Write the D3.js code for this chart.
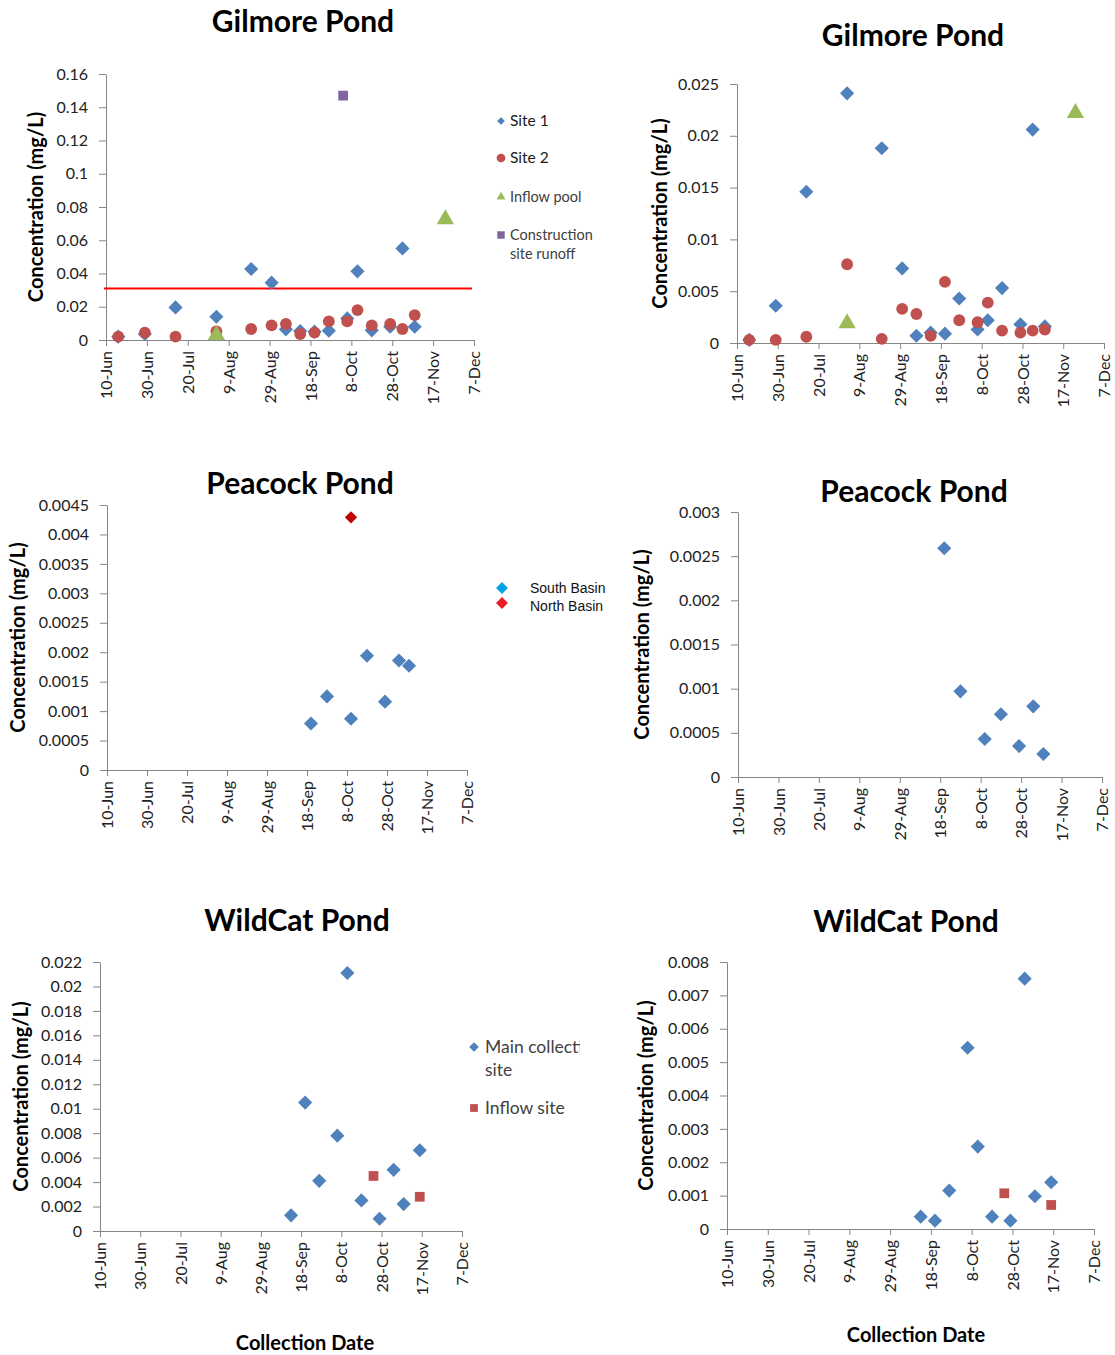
<!DOCTYPE html>
<html>
<head>
<meta charset="utf-8">
<script src="https://cdn.jsdelivr.net/npm/d3@7"></script>
<style>
body { margin: 0; background: #fff; }
svg { font-family: Lato, "Open Sans", sans-serif; }
</style>
</head>
<body>
<div id="chart"></div>
<script>
// shared x axis labels (collection dates)
const xTickLabels = ["10-Jun", "30-Jun", "20-Jul", "9-Aug", "29-Aug", "18-Sep", "8-Oct", "28-Oct", "17-Nov", "7-Dec"];

// Gilmore Pond
const gilmoreDates = ["16-Jun", "29-Jun", "14-Jul", "3-Aug", "20-Aug", "30-Aug", "6-Sep", "13-Sep", "20-Sep", "27-Sep", "6-Oct", "11-Oct", "18-Oct", "27-Oct", "2-Nov", "8-Nov"];
const gilmoreInflowDates = ["3-Aug", "23-Nov"];
const gilmoreRunoffDates = ["4-Oct"];
// left chart
const gilmoreSite1 = [0.002, 0.0036, 0.0196, 0.014, 0.0427, 0.0345, 0.0064, 0.0054, 0.005, 0.0056, 0.013, 0.0413, 0.0058, 0.008, 0.0551, 0.008];
const gilmoreSite2 = [0.002, 0.0044, 0.002, 0.0052, 0.0066, 0.0088, 0.0096, 0.0036, 0.0044, 0.0112, 0.0112, 0.018, 0.0088, 0.0096, 0.0066, 0.015];
const gilmoreInflow = [0.003, 0.0726];
const gilmoreRunoff = [0.147];
const gilmoreLimit = 0.031;
const gilmoreTicks = [0, 0.02, 0.04, 0.06, 0.08, 0.1, 0.12, 0.14, 0.16];
// right chart
const gilmoreSite1B = [0.0003, 0.0036, 0.0146, 0.0241, 0.0188, 0.0072, 0.0007, 0.001, 0.0009, 0.0043, 0.0013, 0.0022, 0.0053, 0.0018, 0.0206, 0.0016];
const gilmoreSite2B = [0.0003, 0.0003, 0.0006, 0.0076, 0.0004, 0.0033, 0.0028, 0.0007, 0.0059, 0.0022, 0.002, 0.0039, 0.0012, 0.001, 0.0012, 0.0013];
const gilmoreInflowB = [0.0019, 0.0222];
const gilmoreTicksB = [0, 0.005, 0.01, 0.015, 0.02, 0.025];

// Peacock Pond
const peacockDates = ["20-Sep", "28-Sep", "10-Oct", "18-Oct", "27-Oct", "3-Nov", "8-Nov"];
const peacockSouth = [0.00079, 0.00125, 0.00087, 0.00194, 0.00116, 0.00186, 0.00177];
const peacockNorthDates = ["10-Oct"];
const peacockNorth = [0.00429];
const peacockTicks = [0, 0.0005, 0.001, 0.0015, 0.002, 0.0025, 0.003, 0.0035, 0.004, 0.0045];
const peacockSouthB = [0.00259, 0.00097, 0.00043, 0.00071, 0.00035, 0.0008, 0.00026];
const peacockTicksB = [0, 0.0005, 0.001, 0.0015, 0.002, 0.0025, 0.003];

// WildCat Pond
const wildcatDates = ["13-Sep", "20-Sep", "27-Sep", "6-Oct", "11-Oct", "18-Oct", "27-Oct", "3-Nov", "8-Nov", "16-Nov"];
const wildcatInflowDates = ["24-Oct", "16-Nov"];
const wildcatMain = [0.00128, 0.0105, 0.0041, 0.0078, 0.0211, 0.0025, 0.001, 0.005, 0.0022, 0.0066];
const wildcatInflow = [0.0045, 0.0028];
const wildcatTicks = [0, 0.002, 0.004, 0.006, 0.008, 0.01, 0.012, 0.014, 0.016, 0.018, 0.02, 0.022];
const wildcatMainB = [0.00037, 0.00025, 0.00115, 0.00543, 0.00247, 0.00037, 0.00025, 0.0075, 0.00098, 0.0014];
const wildcatInflowB = [0.00107, 0.00072];
const wildcatTicksB = [0, 0.001, 0.002, 0.003, 0.004, 0.005, 0.006, 0.007, 0.008];

const blue = "#4f81bd", red = "#c0504d", green = "#9bbb59", purple = "#8064a2";
const parse = d3.utcParse("%d-%b");
const fmt = d3.utcFormat("%-d-%b");
const axisColor = "#868686";

const width = 1115, height = 1355;
const svg = d3.select("#chart").append("svg")
    .attr("width", width)
    .attr("height", height);

const zip = (dates, values) => dates.map((d, i) => ({ date: parse(d), value: values[i] }));

const panels = [
    { title: "Gilmore Pond", left: 106, top: 74, w: 368, h: 266, titleX: 303, titleY: 32, labelX: 36, ticks: gilmoreTicks, limit: gilmoreLimit,
      series: [
        { data: zip(gilmoreDates, gilmoreSite1), shape: "diamond", color: blue },
        { data: zip(gilmoreDates, gilmoreSite2), shape: "circle", color: red },
        { data: zip(gilmoreInflowDates, gilmoreInflow), shape: "triangle", color: green },
        { data: zip(gilmoreRunoffDates, gilmoreRunoff), shape: "square", color: purple }
      ],
      legend: [
        { x: 501, y: 121, shape: "diamond", color: blue, size: 30, lines: ["Site 1"], fs: 15.5, fill: "#1a1a1a" },
        { x: 501, y: 158, shape: "circle", color: red, size: 60, lines: ["Site 2"], fs: 15.5, fill: "#1a1a1a" },
        { x: 501, y: 197, shape: "triangle", color: green, size: 35, lines: ["Inflow pool"], fs: 14.5, fill: "#404040" },
        { x: 501, y: 235, shape: "square", color: purple, size: 55, lines: ["Construction", "site runoff"], fs: 14.5, fill: "#404040" }
      ] },
    { title: "Gilmore Pond", left: 737, top: 84, w: 367, h: 259, titleX: 913, titleY: 46, labelX: 660, ticks: gilmoreTicksB,
      series: [
        { data: zip(gilmoreDates, gilmoreSite1B), shape: "diamond", color: blue },
        { data: zip(gilmoreDates, gilmoreSite2B), shape: "circle", color: red },
        { data: zip(gilmoreInflowDates, gilmoreInflowB), shape: "triangle", color: green }
      ] },
    { title: "Peacock Pond", left: 107, top: 505, w: 360, h: 265, titleX: 300, titleY: 494, labelX: 18, ticks: peacockTicks,
      series: [
        { data: zip(peacockDates, peacockSouth), shape: "diamond", color: blue },
        { data: zip(peacockNorthDates, peacockNorth), shape: "diamond", color: "#c00000", size: 75 }
      ],
      legend: [
        { x: 502, y: 588, shape: "diamond", color: "#00a2e8", size: 70, lines: ["South Basin"], fs: 14, fill: "#111", tx: 530, font: "'Liberation Sans', Arial, sans-serif" },
        { x: 502, y: 603, shape: "diamond", color: "#ec1c24", size: 70, lines: ["North Basin"], fs: 14, fill: "#111", tx: 530, font: "'Liberation Sans', Arial, sans-serif", ty: 606 }
      ] },
    { title: "Peacock Pond", left: 738, top: 512, w: 364, h: 265, titleX: 914, titleY: 502, labelX: 642, ticks: peacockTicksB,
      series: [
        { data: zip(peacockDates, peacockSouthB), shape: "diamond", color: blue }
      ] },
    { title: "WildCat Pond", left: 100, top: 962, w: 362, h: 269, titleX: 297, titleY: 931, labelX: 21, ticks: wildcatTicks, xTitle: "Collection Date", xTitleX: 305, xTitleY: 1350,
      series: [
        { data: zip(wildcatDates, wildcatMain), shape: "diamond", color: blue },
        { data: zip(wildcatInflowDates, wildcatInflow), shape: "square", color: red }
      ],
      legend: [
        { x: 474, y: 1047, shape: "diamond", color: blue, size: 45, lines: ["Main collection", "site"], fs: 17.5, fill: "#404040", clip: 580, lh: 23, tx: 485 },
        { x: 474, y: 1108, shape: "square", color: red, size: 60, lines: ["Inflow site"], fs: 17.5, fill: "#404040", tx: 485 }
      ] },
    { title: "WildCat Pond", left: 727, top: 962, w: 367, h: 267, titleX: 906, titleY: 932, labelX: 646, ticks: wildcatTicksB, xTitle: "Collection Date", xTitleX: 916, xTitleY: 1342,
      series: [
        { data: zip(wildcatDates, wildcatMainB), shape: "diamond", color: blue },
        { data: zip(wildcatInflowDates, wildcatInflowB), shape: "square", color: red }
      ] }
];

const symbolPath = (shape, size) => {
    if (shape === "circle") return d3.symbol(d3.symbolCircle, size)();
    if (shape === "triangle") return d3.symbol(d3.symbolTriangle, size)();
    // diamond = square turned 45 degrees
    return d3.symbol(d3.symbolSquare, size)();
};
const defaultSize = { diamond: 100, circle: 110, triangle: 130, square: 95 };

panels.forEach((p, pi) => {
    const g = svg.append("g").attr("transform", "translate(" + p.left + "," + p.top + ")");

    const x = d3.scaleUtc()
        .domain([parse(xTickLabels[0]), parse(xTickLabels[xTickLabels.length - 1])])
        .range([0, p.w]);
    const y = d3.scaleLinear()
        .domain([0, p.ticks[p.ticks.length - 1]])
        .range([p.h, 0]);

    const yAxis = g.append("g")
        .call(d3.axisLeft(y).tickValues(p.ticks).tickFormat(d3.format("~g")).tickSize(7).tickSizeOuter(0).tickPadding(11));
    const xAxis = g.append("g")
        .attr("transform", "translate(0," + p.h + ")")
        .call(d3.axisBottom(x).tickValues(xTickLabels.map(parse)).tickFormat(fmt).tickSize(6).tickSizeOuter(0));

    [yAxis, xAxis].forEach(a => {
        a.attr("font-family", null);
        a.select(".domain").attr("stroke", axisColor);
        a.selectAll(".tick line").attr("stroke", axisColor);
        a.selectAll("text").attr("font-size", 16).attr("fill", "#222");
    });
    xAxis.selectAll("text")
        .attr("transform", "rotate(-90)")
        .attr("text-anchor", "end")
        .attr("x", -11)
        .attr("y", 0)
        .attr("dy", "0.35em");

    if (p.limit !== undefined) {
        g.append("line")
            .attr("x1", -2).attr("x2", p.w - 2)
            .attr("y1", y(p.limit)).attr("y2", y(p.limit))
            .attr("stroke", "#ff0000")
            .attr("stroke-width", 2);
    }

    p.series.forEach(s => {
        g.selectAll(null)
            .data(s.data)
            .enter()
            .append("path")
                .attr("d", symbolPath(s.shape, s.size || defaultSize[s.shape]))
                .attr("transform", d => "translate(" + x(d.date) + "," + y(d.value) + ")" + (s.shape === "diamond" ? " rotate(45)" : ""))
                .attr("fill", s.color);
    });

    svg.append("text")
        .attr("x", p.titleX)
        .attr("y", p.titleY)
        .attr("text-anchor", "middle")
        .attr("font-size", 30)
        .attr("font-weight", "bold")
        .attr("fill", "#000")
        .text(p.title);

    svg.append("text")
        .attr("transform", "translate(" + p.labelX + "," + (p.top + p.h / 2) + ") rotate(-90)")
        .attr("text-anchor", "middle")
        .attr("dy", "0.35em")
        .attr("font-size", 20)
        .attr("font-weight", "bold")
        .attr("fill", "#000")
        .text("Concentration (mg/L)");

    if (p.xTitle) {
        svg.append("text")
            .attr("x", p.xTitleX)
            .attr("y", p.xTitleY)
            .attr("text-anchor", "middle")
            .attr("font-size", 20)
            .attr("font-weight", "bold")
            .attr("fill", "#000")
            .text(p.xTitle);
    }

    if (p.legend) {
        p.legend.forEach((it, i) => {
            const lg = svg.append("g");
            lg.append("path")
                .attr("d", symbolPath(it.shape, it.size))
                .attr("transform", "translate(" + it.x + "," + it.y + ")" + (it.shape === "diamond" ? " rotate(45)" : ""))
                .attr("fill", it.color);
            if (it.clip) {
                svg.append("clipPath").attr("id", "clip" + pi + "_" + i)
                    .append("rect").attr("x", it.x - 15).attr("y", it.y - 20).attr("width", it.clip - it.x + 15).attr("height", 60);
                lg.attr("clip-path", "url(#clip" + pi + "_" + i + ")");
            }
            const t = lg.append("text")
                .attr("x", it.tx || it.x + 9)
                .attr("y", it.ty || it.y)
                .attr("font-size", it.fs)
                .attr("fill", it.fill);
            if (it.font) t.style("font-family", it.font);
            it.lines.forEach((line, li) => {
                t.append("tspan")
                    .attr("x", it.tx || it.x + 9)
                    .attr("dy", li === 0 ? "0.35em" : (it.lh || 19))
                    .text(line);
            });
        });
    }
});
</script>
</body>
</html>
